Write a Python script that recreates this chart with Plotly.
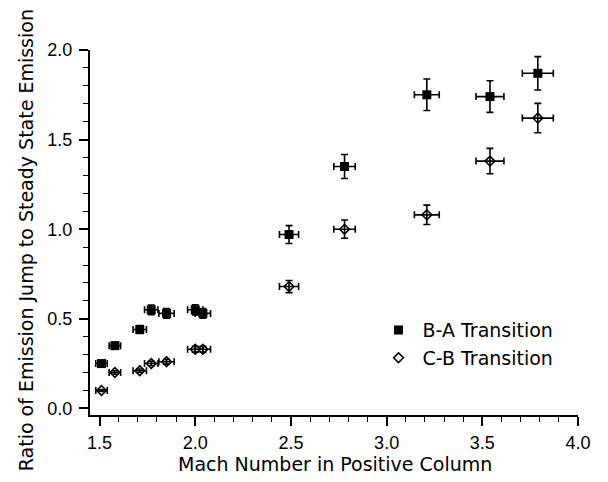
import plotly.graph_objects as go

# Data
mach = [1.51, 1.58, 1.71, 1.77, 1.85, 2.00, 2.04, 2.49, 2.78, 3.21, 3.54, 3.79]
mach_err = [0.03, 0.03, 0.035, 0.035, 0.04, 0.04, 0.04, 0.05, 0.056, 0.065, 0.073, 0.081]

ratio_ba = [0.25, 0.35, 0.44, 0.55, 0.53, 0.55, 0.53, 0.97, 1.35, 1.75, 1.74, 1.87]
ratio_ba_err = [0.012, 0.017, 0.022, 0.027, 0.027, 0.028, 0.027, 0.05, 0.067, 0.088, 0.088, 0.093]

ratio_cb = [0.10, 0.20, 0.21, 0.25, 0.26, 0.33, 0.33, 0.68, 1.00, 1.08, 1.38, 1.62]
ratio_cb_err = [0.005, 0.01, 0.01, 0.012, 0.013, 0.016, 0.016, 0.034, 0.051, 0.054, 0.071, 0.082]

x_ticks = [1.5, 2.0, 2.5, 3.0, 3.5, 4.0]
y_ticks = [0.0, 0.5, 1.0, 1.5, 2.0]

x_title = "Mach Number in Positive Column"
y_title = "Ratio of Emission Jump to Steady State Emission"

err_style = dict(type="data", color="black", thickness=1.6, width=3.5, visible=True)

fig = go.Figure()
fig.add_trace(go.Scatter(
    x=mach, y=ratio_ba, mode="markers", name="B-A Transition",
    marker=dict(symbol="square", size=9, color="black", line=dict(width=0)),
    error_x=dict(array=mach_err, **err_style),
    error_y=dict(array=ratio_ba_err, **err_style),
))
fig.add_trace(go.Scatter(
    x=mach, y=ratio_cb, mode="markers", name="C-B Transition",
    marker=dict(symbol="diamond-open", size=7.5, color="black", line=dict(width=1.6, color="black")),
    error_x=dict(array=mach_err, **err_style),
    error_y=dict(array=ratio_cb_err, **err_style),
))

title_font = dict(family="DejaVu Sans, sans-serif", size=19, color="black")

axis_common = dict(
    showgrid=False, zeroline=False, showline=True, linecolor="black", linewidth=2,
    ticks="outside", ticklen=9, tickwidth=1.6, tickcolor="black",
    tickfont=dict(family="Liberation Sans, Arial, sans-serif", size=18, color="black"),
    mirror=False, automargin=False,
)

fig.update_xaxes(
    range=[1.45, 4.0], tickvals=x_ticks, ticktext=[f"{v:.1f}" for v in x_ticks],
    minor=dict(dtick=0.1, tick0=1.5, ticks="outside", ticklen=5, tickwidth=1.4, tickcolor="black"),
    ticklabelstandoff=1,
    **axis_common,
)
fig.update_yaxes(
    range=[-0.037, 2.0], tickvals=y_ticks, ticktext=[f"{v:.1f}" for v in y_ticks],
    minor=dict(dtick=0.1, tick0=0.0, ticks="outside", ticklen=5, tickwidth=1.4, tickcolor="black"),
    ticklabelstandoff=3,
    **axis_common,
)

fig.add_annotation(
    text=y_title, xref="paper", yref="paper", x=-0.131, y=0.479,
    xanchor="center", yanchor="middle", textangle=-90, showarrow=False,
    font=title_font,
)
fig.add_annotation(
    text=x_title, xref="paper", yref="paper", x=0.503, y=-0.134,
    xanchor="center", yanchor="middle", showarrow=False,
    font=title_font,
)

fig.update_layout(
    width=608, height=482,
    margin=dict(l=90, r=30, t=50, b=67),
    paper_bgcolor="white", plot_bgcolor="white",
    showlegend=True,
    legend=dict(
        x=0.583, y=0.2845, xanchor="left", yanchor="top",
        font=dict(family="DejaVu Sans, sans-serif", size=19, color="black"),
        bgcolor="rgba(0,0,0,0)", tracegroupgap=0, itemsizing="trace", itemwidth=38,
    ),
)

fig.write_html(
    "out.html",
    config={"displayModeBar": False},
    post_script="document.body.style.margin='0';document.body.style.padding='0';",
)
